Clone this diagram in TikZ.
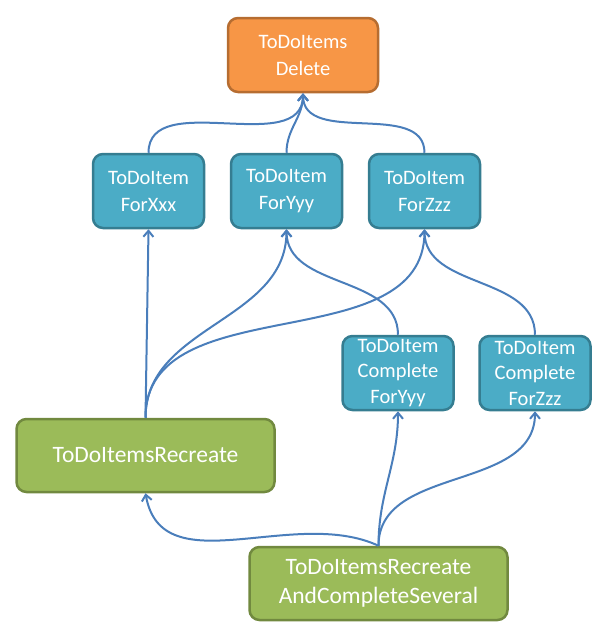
\documentclass[tikz,border=0pt]{standalone}
\usepackage{fontspec}
\setmainfont{Carlito}
\usetikzlibrary{positioning,arrows.meta}

\definecolor{delfill}{HTML}{F79646}
\definecolor{deldraw}{HTML}{B66D31}
\definecolor{itemfill}{HTML}{4BACC6}
\definecolor{itemdraw}{HTML}{357D91}
\definecolor{recfill}{HTML}{9BBB59}
\definecolor{recdraw}{HTML}{71893F}
\definecolor{linkblue}{HTML}{4A7EBB}

\begin{document}
\begin{tikzpicture}[x=1pt, y=1pt,
    every text node part/.style={align=center},
    node distance=24.5pt,
    base/.style={
      % The shape:
      rectangle,
      rounded corners=10pt,
      % The border:
      line width=2.5pt,
      inner sep=0pt,
      % Font
      text=white,
      font=\fontsize{20.5}{27}\selectfont,
    },
    delbox/.style={base, fill=delfill, draw=deldraw,
      minimum width=150pt, minimum height=74pt},
    itembox/.style={base, fill=itemfill, draw=itemdraw,
      minimum width=111pt, minimum height=74pt},
    completebox/.style={itembox, font=\fontsize{20.5}{25.5}\selectfont},
    recbox/.style={base, fill=recfill, draw=recdraw,
      font=\fontsize{23.5}{29}\selectfont,
      minimum width=258pt, minimum height=73pt},
    link/.style={->, line width=2pt, color=linkblue,
      >={Straight Barb[length=6pt, width=10pt]}},
  ]
    \useasboundingbox (0,0) rectangle (610,-641);

    \node[delbox] (delete) at (303,-55) {ToDoItems \\ Delete};

    \node[itembox] (xxx) at (148.5,-191) {ToDoItem \\ ForXxx};
    \node[itembox] (yyy) [right=of xxx] {ToDoItem \\ ForYyy};
    \node[itembox] (zzz) [right=of yyy] {ToDoItem \\ ForZzz};

    \node[completebox] (cyyy) at (398,-373) {ToDoItem \\ Complete \\ ForYyy};
    \node[completebox] (czzz) [right=23.5pt of cyyy] {ToDoItem \\ Complete \\ ForZzz};

    \node[recbox] (recreate) at (145.5,-455.5) {ToDoItemsRecreate};
    \node[recbox] (several) at (378.5,-583.5) {ToDoItemsRecreate \\ AndCompleteSeveral};

    % items -> delete
    \draw[link] (xxx.north) to[out=90, in=-90] (delete.south);
    \draw[link] (yyy.north) to[out=90, in=-90] (delete.south);
    \draw[link] (zzz.north) to[out=90, in=-90] (delete.south);

    % recreate -> items
    \draw[link] (recreate.north) -- (xxx.south);
    \draw[link] (recreate.north) to[out=90, in=-90] (yyy.south);
    \draw[link] (recreate.north) to[out=90, in=-90] (zzz.south);

    % complete -> items
    \draw[link] (cyyy.north) to[out=90, in=-90] (yyy.south);
    \draw[link] (czzz.north) to[out=90, in=-90] (zzz.south);

    % several -> recreate and complete
    \draw[link] (several.north) to[out=155, in=-80] (recreate.south);
    \draw[link] (several.north) to[out=90, in=-90] (cyyy.south);
    \draw[link] (several.north) to[out=90, in=-90] (czzz.south);
  \end{tikzpicture}
\end{document}
